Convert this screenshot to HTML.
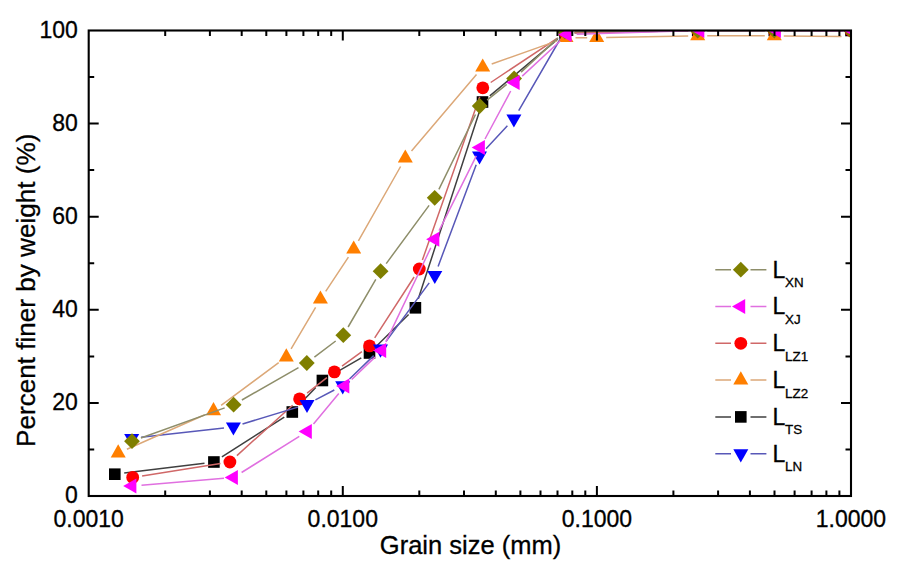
<!DOCTYPE html>
<html><head><meta charset="utf-8"><title>Grain size distribution</title>
<style>html,body{margin:0;padding:0;background:#fff;}body{width:901px;height:575px;overflow:hidden;}svg{display:block;}</style>
</head><body><svg width="901" height="575" viewBox="0 0 901 575"><rect width="901" height="575" fill="#fff"/><defs><clipPath id="pc"><rect x="88.7" y="30.5" width="762.3" height="465.5"/></clipPath></defs><g clip-path="url(#pc)"><path d="M124.2 473.0L204.5 463.2M221.9 456.9L284.3 417.1M298.9 405.1L315.8 387.4M330.6 375.7L361.3 357.8M376.3 346.3L408.6 314.5M418.3 298.8L479.6 111.0M489.8 95.9L557.7 39.1M574.5 32.8L688.2 30.7M707.2 30.5L764.8 30.5M783.8 30.5L841.5 30.5" stroke="#404040" stroke-width="1.5" fill="none"/><rect x="109.0" y="468.4" width="11.6" height="11.6" fill="#000000"/><rect x="208.1" y="456.2" width="11.6" height="11.6" fill="#000000"/><rect x="286.5" y="406.2" width="11.6" height="11.6" fill="#000000"/><rect x="316.6" y="374.7" width="11.6" height="11.6" fill="#000000"/><rect x="363.7" y="347.2" width="11.6" height="11.6" fill="#000000"/><rect x="409.6" y="302.0" width="11.6" height="11.6" fill="#000000"/><rect x="476.7" y="96.2" width="11.6" height="11.6" fill="#000000"/><rect x="559.2" y="27.2" width="11.6" height="11.6" fill="#000000"/><rect x="691.9" y="24.7" width="11.6" height="11.6" fill="#000000"/><rect x="768.5" y="24.7" width="11.6" height="11.6" fill="#000000"/><rect x="845.2" y="24.7" width="11.6" height="11.6" fill="#000000"/><path d="M142.1 475.9L220.5 463.5M236.9 455.6L292.6 405.3M307.1 393.1L326.9 377.7M342.0 366.2L361.9 351.6M374.7 337.9L414.1 277.0M422.4 260.0L479.7 96.8M490.7 82.5L557.1 38.3M574.5 32.8L688.2 30.7M707.2 30.5L764.8 30.5M783.8 30.5L841.5 30.5" stroke="#d06868" stroke-width="1.5" fill="none"/><circle cx="132.7" cy="477.4" r="6.4" fill="#ff0000"/><circle cx="229.9" cy="462.0" r="6.4" fill="#ff0000"/><circle cx="299.6" cy="398.9" r="6.4" fill="#ff0000"/><circle cx="334.4" cy="371.9" r="6.4" fill="#ff0000"/><circle cx="369.5" cy="345.9" r="6.4" fill="#ff0000"/><circle cx="419.3" cy="269.0" r="6.4" fill="#ff0000"/><circle cx="482.8" cy="87.8" r="6.4" fill="#ff0000"/><circle cx="565.0" cy="33.0" r="6.4" fill="#ff0000"/><circle cx="697.7" cy="30.5" r="6.4" fill="#ff0000"/><circle cx="774.3" cy="30.5" r="6.4" fill="#ff0000"/><circle cx="851.0" cy="30.5" r="6.4" fill="#ff0000"/><path d="M141.1 437.2L224.0 427.9M242.5 424.0L297.9 407.1M315.4 399.9L334.3 390.0M349.5 379.0L373.7 355.6M386.1 341.4L429.2 282.9M438.1 266.4L476.2 164.7M486.0 148.8L507.4 125.8M518.7 110.6L560.2 39.0M574.5 30.6L688.2 28.5M707.2 28.3L764.8 28.3M783.8 28.3L841.5 28.3" stroke="#5858b8" stroke-width="1.5" fill="none"/><path d="M124.20 433.90L139.20 433.90L131.70 447.10Z" fill="#0000ff"/><path d="M225.90 422.40L240.90 422.40L233.40 435.60Z" fill="#0000ff"/><path d="M299.50 399.90L314.50 399.90L307.00 413.10Z" fill="#0000ff"/><path d="M335.20 381.20L350.20 381.20L342.70 394.40Z" fill="#0000ff"/><path d="M373.00 344.60L388.00 344.60L380.50 357.80Z" fill="#0000ff"/><path d="M427.30 270.90L442.30 270.90L434.80 284.10Z" fill="#0000ff"/><path d="M472.00 151.40L487.00 151.40L479.50 164.60Z" fill="#0000ff"/><path d="M506.40 114.40L521.40 114.40L513.90 127.60Z" fill="#0000ff"/><path d="M557.50 26.40L572.50 26.40L565.00 39.60Z" fill="#0000ff"/><path d="M690.20 23.90L705.20 23.90L697.70 37.10Z" fill="#0000ff"/><path d="M766.80 23.90L781.80 23.90L774.30 37.10Z" fill="#0000ff"/><path d="M843.50 23.90L858.50 23.90L851.00 37.10Z" fill="#0000ff"/><path d="M126.9 449.2L204.8 414.7M221.1 405.3L278.7 362.7M291.1 348.9L315.6 307.4M325.7 291.3L348.4 257.1M358.4 240.9L400.6 166.5M411.5 151.0L476.5 74.4M491.7 64.0L557.0 40.9M575.5 37.7L587.2 37.7M606.2 37.5L688.2 36.0M707.2 35.8L764.8 35.8M783.8 35.9L841.5 36.6" stroke="#dca878" stroke-width="1.5" fill="none"/><path d="M118.20 444.20L125.70 457.40L110.70 457.40Z" fill="#ff7f00"/><path d="M213.50 402.10L221.00 415.30L206.00 415.30Z" fill="#ff7f00"/><path d="M286.30 348.30L293.80 361.50L278.80 361.50Z" fill="#ff7f00"/><path d="M320.40 290.40L327.90 303.60L312.90 303.60Z" fill="#ff7f00"/><path d="M353.70 240.40L361.20 253.60L346.20 253.60Z" fill="#ff7f00"/><path d="M405.30 149.40L412.80 162.60L397.80 162.60Z" fill="#ff7f00"/><path d="M482.70 58.40L490.20 71.60L475.20 71.60Z" fill="#ff7f00"/><path d="M566.00 28.90L573.50 42.10L558.50 42.10Z" fill="#ff7f00"/><path d="M596.70 28.90L604.20 42.10L589.20 42.10Z" fill="#ff7f00"/><path d="M697.70 27.00L705.20 40.20L690.20 40.20Z" fill="#ff7f00"/><path d="M774.30 27.00L781.80 40.20L766.80 40.20Z" fill="#ff7f00"/><path d="M140.9 438.0L224.7 407.9M241.9 400.0L298.5 367.7M314.4 357.2L335.7 341.0M348.1 327.0L375.8 279.4M386.2 263.6L429.1 205.4M438.9 189.3L475.5 114.5M487.1 100.1L506.7 84.4M521.1 72.1L558.0 37.9M574.5 31.4L688.2 30.6M707.2 30.5L764.8 30.5M783.8 30.5L841.5 30.5" stroke="#8e8e6a" stroke-width="1.5" fill="none"/><path d="M132.0 433.3L139.9 441.2L132.0 449.1L124.1 441.2Z" fill="#7f7f00"/><path d="M233.6 396.8L241.5 404.7L233.6 412.6L225.7 404.7Z" fill="#7f7f00"/><path d="M306.8 355.1L314.7 363.0L306.8 370.9L298.9 363.0Z" fill="#7f7f00"/><path d="M343.3 327.3L351.2 335.2L343.3 343.1L335.4 335.2Z" fill="#7f7f00"/><path d="M380.6 263.3L388.5 271.2L380.6 279.1L372.7 271.2Z" fill="#7f7f00"/><path d="M434.7 189.9L442.6 197.8L434.7 205.7L426.8 197.8Z" fill="#7f7f00"/><path d="M479.7 98.1L487.6 106.0L479.7 113.9L471.8 106.0Z" fill="#7f7f00"/><path d="M514.1 70.6L522.0 78.5L514.1 86.4L506.2 78.5Z" fill="#7f7f00"/><path d="M565.0 23.6L572.9 31.5L565.0 39.4L557.1 31.5Z" fill="#7f7f00"/><path d="M697.7 22.6L705.6 30.5L697.7 38.4L689.8 30.5Z" fill="#7f7f00"/><path d="M774.3 22.6L782.2 30.5L774.3 38.4L766.4 30.5Z" fill="#7f7f00"/><path d="M851.0 22.6L858.9 30.5L851.0 38.4L843.1 30.5Z" fill="#7f7f00"/><path d="M141.5 485.2L224.0 478.3M241.6 472.5L299.3 436.4M313.5 424.1L338.8 393.4M351.7 379.5L375.0 357.1M385.9 341.9L430.8 247.8M439.1 230.7L476.3 155.9M485.0 139.0L510.7 91.0M522.2 76.1L560.2 41.0M576.7 34.2L690.4 30.8M709.4 30.5L767.0 30.5M786.0 30.6L843.7 30.9" stroke="#e070e0" stroke-width="1.5" fill="none"/><path d="M123.20 486.00L136.40 478.50L136.40 493.50Z" fill="#ff00ff"/><path d="M224.70 477.50L237.90 470.00L237.90 485.00Z" fill="#ff00ff"/><path d="M298.60 431.40L311.80 423.90L311.80 438.90Z" fill="#ff00ff"/><path d="M336.10 386.10L349.30 378.60L349.30 393.60Z" fill="#ff00ff"/><path d="M373.00 350.50L386.20 343.00L386.20 358.00Z" fill="#ff00ff"/><path d="M426.10 239.20L439.30 231.70L439.30 246.70Z" fill="#ff00ff"/><path d="M471.70 147.40L484.90 139.90L484.90 154.90Z" fill="#ff00ff"/><path d="M506.40 82.60L519.60 75.10L519.60 90.10Z" fill="#ff00ff"/><path d="M558.40 34.50L571.60 27.00L571.60 42.00Z" fill="#ff00ff"/><path d="M691.10 30.50L704.30 23.00L704.30 38.00Z" fill="#ff00ff"/><path d="M767.70 30.50L780.90 23.00L780.90 38.00Z" fill="#ff00ff"/><path d="M844.40 31.00L857.60 23.50L857.60 38.50Z" fill="#ff00ff"/></g><rect x="88.7" y="30.5" width="762.3" height="465.5" fill="none" stroke="#000" stroke-width="2.1"/><path d="M165.2 496.0v-5.5M165.2 30.5v5.5M209.9 496.0v-5.5M209.9 30.5v5.5M241.7 496.0v-5.5M241.7 30.5v5.5M266.3 496.0v-5.5M266.3 30.5v5.5M286.4 496.0v-5.5M286.4 30.5v5.5M303.4 496.0v-5.5M303.4 30.5v5.5M318.2 496.0v-5.5M318.2 30.5v5.5M331.2 496.0v-5.5M331.2 30.5v5.5M342.8 496.0v-10M342.8 30.5v10M419.3 496.0v-5.5M419.3 30.5v5.5M464.0 496.0v-5.5M464.0 30.5v5.5M495.8 496.0v-5.5M495.8 30.5v5.5M520.4 496.0v-5.5M520.4 30.5v5.5M540.5 496.0v-5.5M540.5 30.5v5.5M557.5 496.0v-5.5M557.5 30.5v5.5M572.3 496.0v-5.5M572.3 30.5v5.5M585.3 496.0v-5.5M585.3 30.5v5.5M596.9 496.0v-10M596.9 30.5v10M673.4 496.0v-5.5M673.4 30.5v5.5M718.1 496.0v-5.5M718.1 30.5v5.5M749.9 496.0v-5.5M749.9 30.5v5.5M774.5 496.0v-5.5M774.5 30.5v5.5M794.6 496.0v-5.5M794.6 30.5v5.5M811.6 496.0v-5.5M811.6 30.5v5.5M826.4 496.0v-5.5M826.4 30.5v5.5M839.4 496.0v-5.5M839.4 30.5v5.5M88.7 449.4h5.5M851.0 449.4h-5.5M88.7 402.9h10M851.0 402.9h-10M88.7 356.4h5.5M851.0 356.4h-5.5M88.7 309.8h10M851.0 309.8h-10M88.7 263.2h5.5M851.0 263.2h-5.5M88.7 216.7h10M851.0 216.7h-10M88.7 170.1h5.5M851.0 170.1h-5.5M88.7 123.6h10M851.0 123.6h-10M88.7 77.0h5.5M851.0 77.0h-5.5" stroke="#000" stroke-width="2" fill="none"/><text x="77.8" y="503.2" text-anchor="end" font-size="23" font-family="'Liberation Sans', Arial, sans-serif" stroke="#000" stroke-width="0.3">0</text><text x="77.8" y="410.1" text-anchor="end" font-size="23" font-family="'Liberation Sans', Arial, sans-serif" stroke="#000" stroke-width="0.3">20</text><text x="77.8" y="317.0" text-anchor="end" font-size="23" font-family="'Liberation Sans', Arial, sans-serif" stroke="#000" stroke-width="0.3">40</text><text x="77.8" y="223.9" text-anchor="end" font-size="23" font-family="'Liberation Sans', Arial, sans-serif" stroke="#000" stroke-width="0.3">60</text><text x="77.8" y="130.8" text-anchor="end" font-size="23" font-family="'Liberation Sans', Arial, sans-serif" stroke="#000" stroke-width="0.3">80</text><text x="77.8" y="37.7" text-anchor="end" font-size="23" font-family="'Liberation Sans', Arial, sans-serif" stroke="#000" stroke-width="0.3">100</text><text x="88.7" y="526.5" text-anchor="middle" font-size="23" font-family="'Liberation Sans', Arial, sans-serif" stroke="#000" stroke-width="0.3">0.0010</text><text x="342.8" y="526.5" text-anchor="middle" font-size="23" font-family="'Liberation Sans', Arial, sans-serif" stroke="#000" stroke-width="0.3">0.0100</text><text x="596.9" y="526.5" text-anchor="middle" font-size="23" font-family="'Liberation Sans', Arial, sans-serif" stroke="#000" stroke-width="0.3">0.1000</text><text x="851.0" y="526.5" text-anchor="middle" font-size="23" font-family="'Liberation Sans', Arial, sans-serif" stroke="#000" stroke-width="0.3">1.0000</text><text x="470.5" y="554.3" text-anchor="middle" font-size="25.5" font-family="'Liberation Sans', Arial, sans-serif" stroke="#000" stroke-width="0.3">Grain size (mm)</text><text transform="translate(34.9 290.3) rotate(-90)" text-anchor="middle" font-size="26.1" font-family="'Liberation Sans', Arial, sans-serif" stroke="#000" stroke-width="0.3">Percent finer by weight (%)</text><path d="M715.3 269.7H731M750.5 269.7H766.4" stroke="#8e8e6a" stroke-width="1.5"/><path d="M740.8 261.8L748.7 269.7L740.8 277.6L732.9 269.7Z" fill="#7f7f00"/><text x="772.6" y="277.5" font-size="23" font-family="'Liberation Sans', Arial, sans-serif" stroke="#000" stroke-width="0.3">L</text><text x="785" y="287.1" font-size="13.4" font-family="'Liberation Sans', Arial, sans-serif" stroke="#000" stroke-width="0.3">XN</text><path d="M715.3 306.5H731M750.5 306.5H766.4" stroke="#e070e0" stroke-width="1.5"/><path d="M732.00 306.50L745.20 299.00L745.20 314.00Z" fill="#ff00ff"/><text x="772.6" y="314.3" font-size="23" font-family="'Liberation Sans', Arial, sans-serif" stroke="#000" stroke-width="0.3">L</text><text x="785" y="323.9" font-size="13.4" font-family="'Liberation Sans', Arial, sans-serif" stroke="#000" stroke-width="0.3">XJ</text><path d="M715.3 343.3H731M750.5 343.3H766.4" stroke="#d06868" stroke-width="1.5"/><circle cx="740.8" cy="343.3" r="6.4" fill="#ff0000"/><text x="772.6" y="351.1" font-size="23" font-family="'Liberation Sans', Arial, sans-serif" stroke="#000" stroke-width="0.3">L</text><text x="785" y="360.7" font-size="13.4" font-family="'Liberation Sans', Arial, sans-serif" stroke="#000" stroke-width="0.3">LZ1</text><path d="M715.3 380.1H731M750.5 380.1H766.4" stroke="#dca878" stroke-width="1.5"/><path d="M740.80 371.30L748.30 384.50L733.30 384.50Z" fill="#ff7f00"/><text x="772.6" y="387.9" font-size="23" font-family="'Liberation Sans', Arial, sans-serif" stroke="#000" stroke-width="0.3">L</text><text x="785" y="397.5" font-size="13.4" font-family="'Liberation Sans', Arial, sans-serif" stroke="#000" stroke-width="0.3">LZ2</text><path d="M715.3 416.9H731M750.5 416.9H766.4" stroke="#404040" stroke-width="1.5"/><rect x="735.0" y="411.1" width="11.6" height="11.6" fill="#000000"/><text x="772.6" y="424.7" font-size="23" font-family="'Liberation Sans', Arial, sans-serif" stroke="#000" stroke-width="0.3">L</text><text x="785" y="434.3" font-size="13.4" font-family="'Liberation Sans', Arial, sans-serif" stroke="#000" stroke-width="0.3">TS</text><path d="M715.3 453.7H731M750.5 453.7H766.4" stroke="#5858b8" stroke-width="1.5"/><path d="M733.30 449.30L748.30 449.30L740.80 462.50Z" fill="#0000ff"/><text x="772.6" y="461.5" font-size="23" font-family="'Liberation Sans', Arial, sans-serif" stroke="#000" stroke-width="0.3">L</text><text x="785" y="471.1" font-size="13.4" font-family="'Liberation Sans', Arial, sans-serif" stroke="#000" stroke-width="0.3">LN</text></svg></body></html>
